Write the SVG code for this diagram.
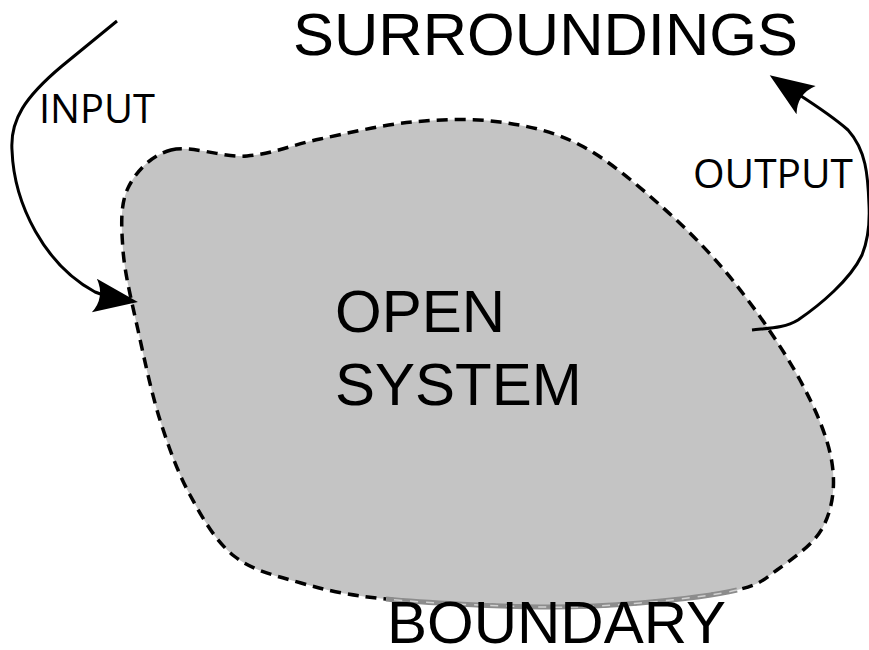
<svg xmlns="http://www.w3.org/2000/svg" width="869" height="650" viewBox="0 0 869 650">
  <style>
    .big { font-family: "Liberation Sans", Arial, sans-serif; font-size: 60px; fill: #000; }
    .small { font-family: "Open Sans", "DejaVu Sans", sans-serif; font-size: 40px; fill: #000; }
    .conn { fill: none; stroke: #000; stroke-width: 3; stroke-linecap: butt; }
    .edge { fill: #c4c4c4; stroke: #000; stroke-width: 3.5; stroke-dasharray: 11 7; }
  </style>
  <defs>
    <marker id="arrow" markerUnits="userSpaceOnUse" viewBox="-40 -20 55 40" markerWidth="55" markerHeight="40" refX="0" refY="0" orient="auto" overflow="visible">
      <path d="M10,0 L-34,-17 Q-23,0 -34,17 Z" fill="#000"/>
    </marker>
  </defs>
  <rect width="869" height="650" fill="#fff"/>

  <g id="open-system">
    <path class="edge" d="M171,150 C190.8,144.7 222.2,157.8 247,156 C271.8,154.2 292.5,144.7 320,139 C347.5,133.3 382,124.8 412,122 C442,119.2 472,118.2 500,122 C528,125.8 553.3,131.2 580,145 C606.7,158.8 634.3,182.2 660,205 C685.7,227.8 710.7,252.8 734,282 C757.3,311.2 783.7,349.8 800,380 C816.3,410.2 828.2,438.5 832,463 C835.8,487.5 832.2,509.2 823,527 C813.8,544.8 791.3,559.5 777,570 C762.7,580.5 759.8,584.5 737,590 C714.2,595.5 672.8,600.2 640,603 C607.2,605.8 582.3,607.7 540,607 C497.7,606.3 425.8,603 386,599 C346.2,595 326.3,590.2 301,583 C275.7,575.8 252.5,570.7 234,556 C215.5,541.3 202.3,517.7 190,495 C177.7,472.3 168.7,447.5 160,420 C151.3,392.5 144.2,358.3 138,330 C131.8,301.7 124.7,273.7 123,250 C121.3,226.3 120,204.7 128,188 C136,171.3 151.2,155.3 171,150 Z"/>
    <text class="big" x="335" y="332">OPEN</text>
    <text class="big" x="335" y="405">SYSTEM</text>
  </g>

  <g id="boundary">
    <path d="M737,590 C714.2,595.5 672.8,600.2 640,603 C607.2,605.8 582.3,607.7 540,607 C497.7,606.3 425.8,603 386,599" fill="none" stroke="#8c8c8c" stroke-width="5"/>
    <path d="M737,590 C714.2,595.5 672.8,600.2 640,603 C607.2,605.8 582.3,607.7 540,607 C497.7,606.3 425.8,603 386,599" fill="none" stroke="#d2d2d2" stroke-width="1.5" stroke-dasharray="8 8"/>
    <text class="big" x="387" y="643">BOUNDARY</text>
  </g>

  <g id="surroundings">
    <text class="big" x="293" y="55" textLength="505" lengthAdjust="spacingAndGlyphs">SURROUNDINGS</text>
  </g>

  <g id="input-label">
    <text class="small" x="39" y="123" textLength="116" lengthAdjust="spacingAndGlyphs">INPUT</text>
  </g>

  <g id="output-label">
    <text class="small" x="693" y="188" textLength="160" lengthAdjust="spacingAndGlyphs">OUTPUT</text>
  </g>

  <g id="connectors">
    <path class="conn" marker-end="url(#arrow)" d="M117,21 L62,66 C25,97 10,120 12,150 C14,205 45,265 95,292 C105,296 118,299 128,300.5"/>
    <path class="conn" marker-end="url(#arrow)" d="M752,330 C770,328 785,328 798,320 C820,305 850,280 862,255 C868,240 870,225 869,205 C868,175 866,150 848,130 C825,110 800,96 778,81"/>
  </g>
</svg>
